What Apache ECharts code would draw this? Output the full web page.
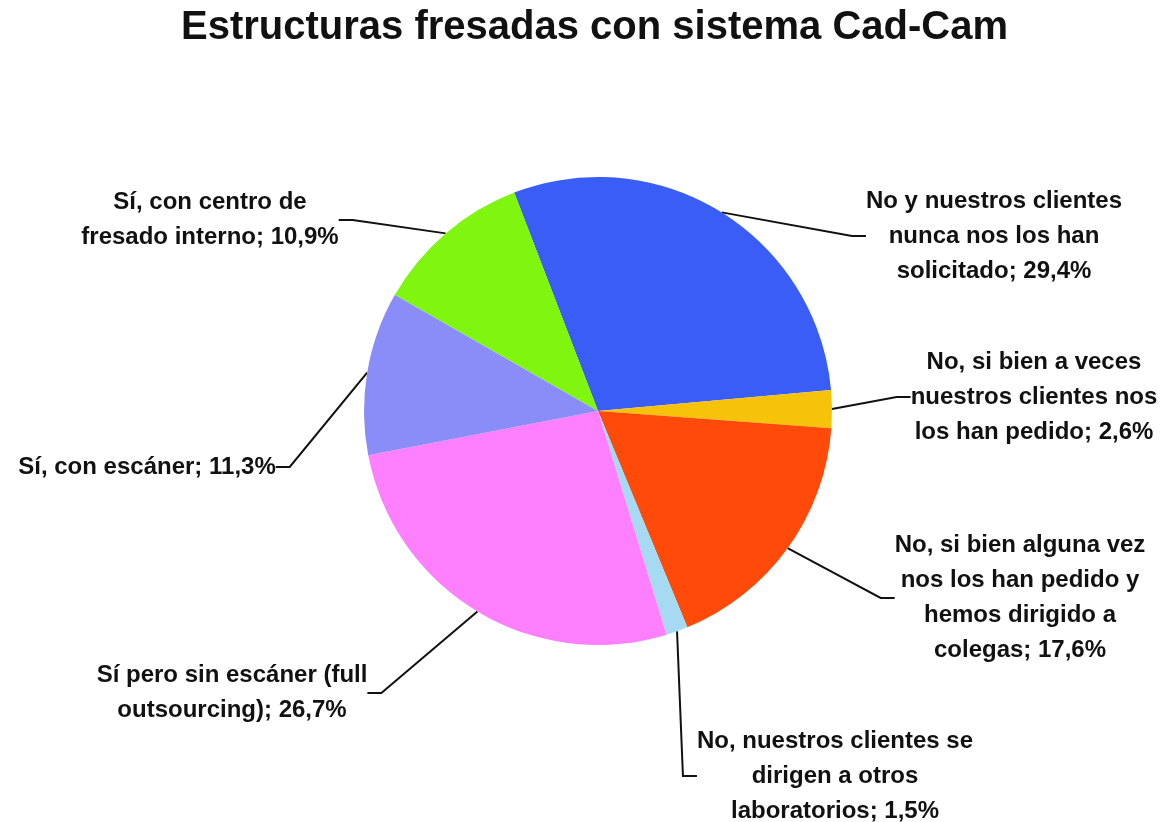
<!DOCTYPE html>
<html>
<head>
<meta charset="utf-8">
<script src="https://cdn.jsdelivr.net/npm/echarts@6/dist/echarts.min.js"></script>
<style>html,body{margin:0;padding:0;background:#fff}#c{width:1165px;height:822px}</style>
</head>
<body>
<div id="c"></div>
<script>
const titleText = 'Estructuras fresadas con sistema Cad-Cam';
const categories = [
  'No y nuestros clientes\nnunca nos los han\nsolicitado',
  'No, si bien a veces\nnuestros clientes nos\nlos han pedido',
  'No, si bien alguna vez\nnos los han pedido y\nhemos dirigido a\ncolegas',
  'No, nuestros clientes se\ndirigen a otros\nlaboratorios',
  'Sí pero sin escáner (full\noutsourcing)',
  'Sí, con escáner',
  'Sí, con centro de\nfresado interno'
];
const values = [29.4, 2.6, 17.6, 1.5, 26.7, 11.3, 10.9];
const colors = ['#3A5EF5', '#F7C20A', '#FF4A0A', '#A6DAF2', '#FF80FF', '#8A8CF7', '#80F510'];
// label centre positions (layout only)
const labelPos = [[994, 236], [1034, 397], [1020, 598], [835, 776], [232, 693], [147, 467], [210, 220]];

const chart = echarts.init(document.getElementById('c'));
chart.setOption({
  backgroundColor: '#ffffff',
  animation: false,
  title: {
    text: titleText, left: 176, top: 3,
    textStyle: { fontFamily: 'Liberation Sans', fontWeight: 'bold', fontSize: 40, color: '#111' }
  },
  series: [{
    type: 'pie',
    center: [598, 411],
    radius: 234,
    startAngle: 111,
    clockwise: true,
    data: categories.map((n, i) => ({ name: n, value: values[i], itemStyle: { color: colors[i] } })),
    label: {
      show: true,
      position: 'outside',
      formatter: p => p.name + '; ' + p.value.toFixed(1).replace('.', ',') + '%',
      fontFamily: 'Liberation Sans', fontWeight: 'bold', fontSize: 24, lineHeight: 35,
      color: '#111', align: 'center'
    },
    labelLine: { show: true, length: 20, length2: 14, lineStyle: { color: '#111', width: 2 } },
    labelLayout: p => ({ x: labelPos[p.dataIndex][0], y: labelPos[p.dataIndex][1], align: 'center', verticalAlign: 'middle' }),
    emphasis: { disabled: true }
  }]
});
</script>
</body>
</html>
